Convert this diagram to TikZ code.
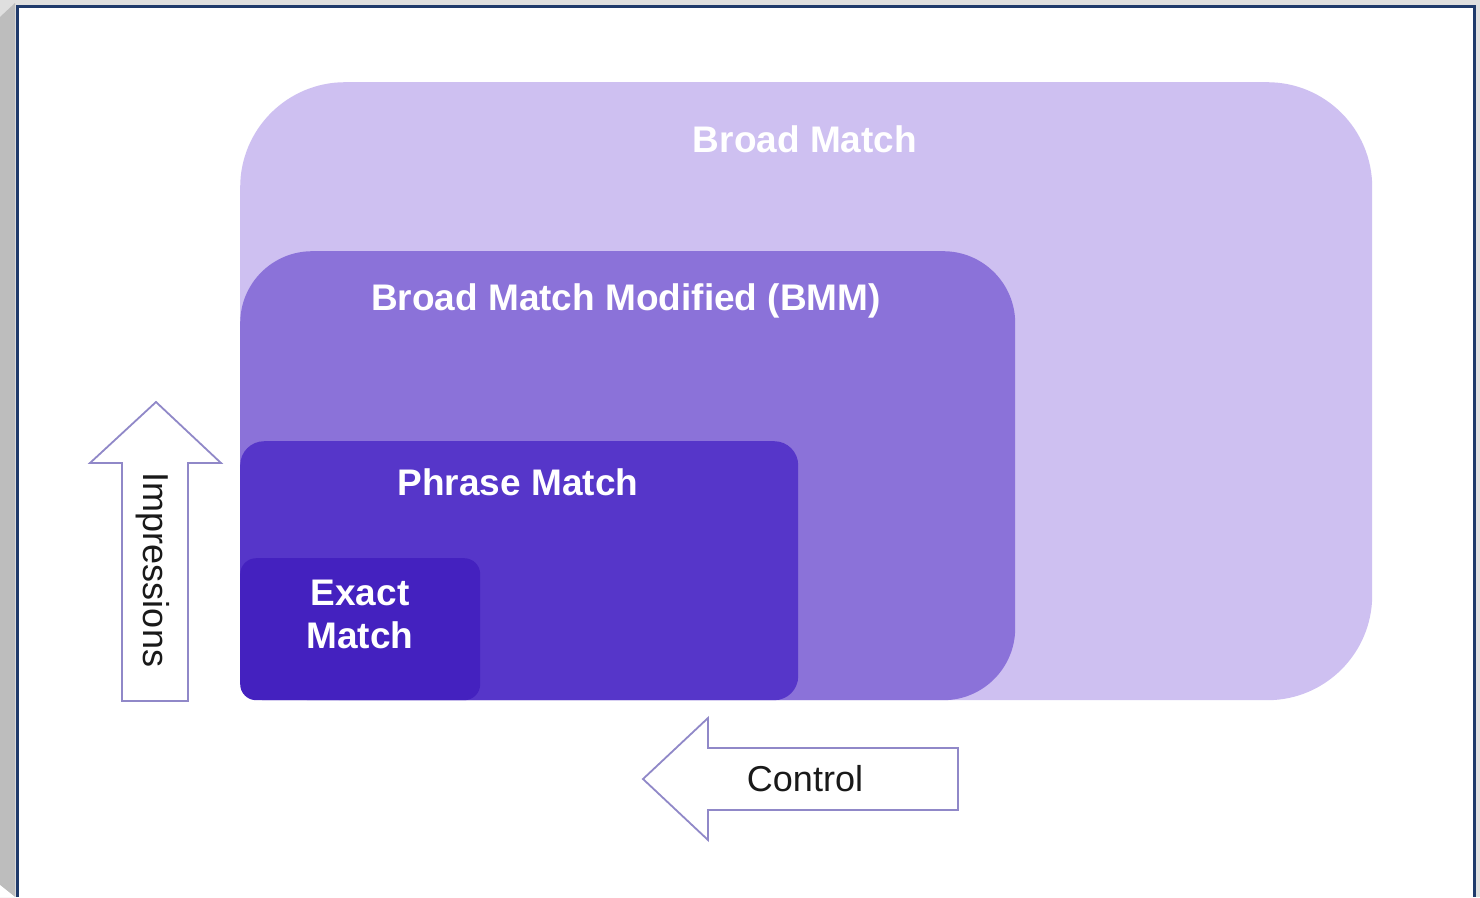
\documentclass[tikz,border=0pt]{standalone}
\usepackage{fontspec}
\setmainfont{Liberation Sans}
\definecolor{broadc}{HTML}{CEC0F1}
\definecolor{bmmc}{HTML}{8B72D9}
\definecolor{phrasec}{HTML}{5636C9}
\definecolor{exactc}{HTML}{4421BF}
\definecolor{framec}{HTML}{1F3A6B}
\definecolor{arrowc}{HTML}{9088C8}
\definecolor{shadowc}{HTML}{BDBDBD}
\tikzset{
  box/.style={draw=none, anchor=north west, inner sep=0pt},
  boxlabel/.style={text=white, font=\bfseries\fontsize{37}{43}\selectfont, align=center, inner sep=0pt},
  blockarrow/.style={draw=arrowc, line width=1.8pt, fill=white, line join=miter},
  arrowlabel/.style={text=black!90, font=\fontsize{36}{40}\selectfont, inner sep=0pt}
}
\begin{document}
\begin{tikzpicture}[x=1pt,y=-1pt]
\useasboundingbox (0,0) rectangle (1480,897);
% shadow and frame
\fill[gray!25] (0,0) rectangle (1480,897);
\fill[shadowc] (0,17) -- (15,3) -- (15,897) -- (0,897) -- cycle;
\fill[white] (0,885) -- (15,897) -- (0,897) -- cycle;
\fill[white] (17,6.5) rectangle (1474.5,897);
\draw[framec, line width=3pt] (17,897) -- (17,6.5) -- (1474.5,6.5) -- (1474.5,897);
% nested boxes
\node[box, fill=broadc, minimum width=1132pt, minimum height=618pt, rounded corners=105pt] (broad) at (240,82) {};
\node[box, fill=bmmc, minimum width=775pt, minimum height=449pt, rounded corners=72pt] (bmm) at (240,251) {};
\node[box, fill=phrasec, minimum width=558pt, minimum height=259pt, rounded corners=24pt] (phrase) at (240,441) {};
\node[box, fill=exactc, minimum width=240pt, minimum height=142pt, rounded corners=16pt] (exact) at (240,558) {};
% labels
\node[boxlabel] (broadlbl) at (805,139) {Broad Match};
\node[boxlabel] (bmmlbl) at (626,301) {Broad Match Modified (BMM)};
\node[boxlabel] (phraselbl) at (518,482) {Phrase Match};
\node[boxlabel] (exactlbl) at (360,614) {Exact\\Match};
% impressions arrow
\draw[blockarrow] (122,701) -- (122,463) -- (90,463) -- (156,402) -- (221,463) -- (188,463) -- (188,701) -- cycle;
\node[arrowlabel, rotate=-90] (impr) at (153,570) {Impressions};
% control arrow
\draw[blockarrow] (958,748) -- (708,748) -- (708,718) -- (643,779) -- (708,840) -- (708,810) -- (958,810) -- cycle;
\node[arrowlabel] (ctrl) at (805,779) {Control};
\end{tikzpicture}
\end{document}
